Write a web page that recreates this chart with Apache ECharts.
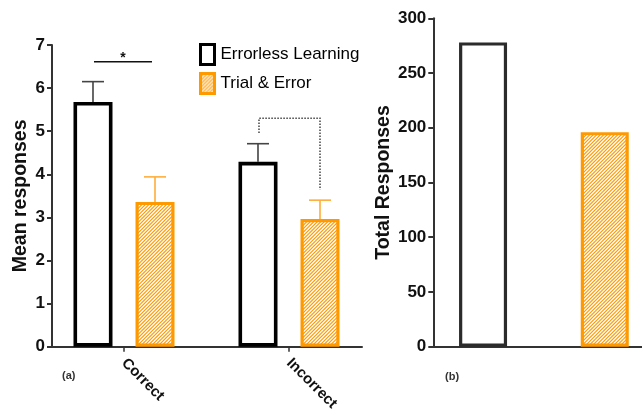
<!DOCTYPE html>
<html>
<head>
<meta charset="utf-8">
<script src="https://cdn.jsdelivr.net/npm/echarts@6/dist/echarts.min.js"></script>
<style>
html,body{margin:0;padding:0;background:#fff;}
#chart{width:642px;height:409px;}
</style>
</head>
<body>
<div id="chart"></div>
<script>
// ---- data ----
var categories = ['Correct', 'Incorrect'];
var errorlessMean = [5.68, 4.29];
var errorlessSem = [0.47, 0.42];
var trialMean = [3.36, 2.96];
var trialSem = [0.58, 0.44];
var meanTicks = [0, 1, 2, 3, 4, 5, 6, 7];

var totalGroups = ['Errorless Learning', 'Trial & Error'];
var totalValues = [278, 196];
var totalTicks = [0, 50, 100, 150, 200, 250, 300];

// significance annotations (in data units)
var sigSolid = [[0, 6.61]];              // category, line level
var sigDotted = [[1, 5.30, 4.96, 3.64]]; // category, top, left leg end, right leg end

// ---- styles ----
var FONT = 'Liberation Sans, Arial, Helvetica, sans-serif';
var ORANGE = '#FF9900';
var ORANGE_ERR = '#FFAD3A';

function makeHatch() {
  var c = document.createElement('canvas');
  var s = 7;
  c.width = s; c.height = s;
  var ctx = c.getContext('2d');
  ctx.fillStyle = '#fff';
  ctx.fillRect(0, 0, s, s);
  ctx.strokeStyle = ORANGE;
  ctx.lineWidth = 1.2;
  ctx.beginPath();
  var h = s / 2;
  [0, h, s, s + h, 2 * s].forEach(function (k) {
    ctx.moveTo(k + 2, -2); ctx.lineTo(-2, k + 2);
  });
  ctx.stroke();
  return c;
}
var hatch = { image: makeHatch(), repeat: 'repeat' };

var BAR_W = 39, BAR_GAP = 0.59;
var OFF = (BAR_W + BAR_W * BAR_GAP) / 2;

function errRender(offset, color) {
  return function (params, api) {
    var cx = api.coord([api.value(0), 0])[0] + offset;
    var yBase = api.coord([api.value(0), api.value(1)])[1];
    var yTop = api.coord([api.value(0), api.value(1) + api.value(2)])[1];
    return {
      type: 'group',
      children: [
        { type: 'line', shape: { x1: cx, y1: yBase, x2: cx, y2: yTop }, style: { stroke: color, lineWidth: 1.6 } },
        { type: 'line', shape: { x1: cx - 11, y1: yTop, x2: cx + 11, y2: yTop }, style: { stroke: color, lineWidth: 1.6 } }
      ]
    };
  };
}

var chart = echarts.init(document.getElementById('chart'), null, { renderer: 'canvas' });

var axisLineStyle = { color: '#333', width: 2 };
var tickLabel = { fontSize: 17, fontWeight: 'bold', color: '#111', fontFamily: FONT };
var nameStyle = { fontSize: 19.5, fontWeight: 'bold', color: '#111', fontFamily: FONT };

var option = {
  animation: false,
  backgroundColor: '#fff',
  textStyle: { fontFamily: FONT },
  grid: [
    { left: 41.5, top: 45, width: 330, height: 301.7, outerBoundsMode: 'none', containLabel: false },
    { left: 52, top: 45, width: 310, height: 301.7, outerBoundsMode: 'none', containLabel: false },
    { left: 422.2, top: 18.3, width: 243.4, height: 328.4, outerBoundsMode: 'none', containLabel: false },
    { left: 433.3, top: 18.3, width: 208.7, height: 328.4, outerBoundsMode: 'none', containLabel: false }
  ],
  legend: {
    left: 199, top: 43, padding: 0, orient: 'vertical',
    itemWidth: 14, itemHeight: 20, itemGap: 6, selectedMode: false,
    textStyle: { fontSize: 17, color: '#000', fontFamily: FONT, padding: [0, 0, 0, 1] },
    data: [
      { name: 'Errorless Learning', icon: 'rect', itemStyle: { color: '#fff', borderColor: '#000', borderWidth: 3 } },
      { name: 'Trial & Error', icon: 'rect', itemStyle: { color: hatch, borderColor: ORANGE, borderWidth: 3 } }
    ]
  },
  xAxis: [
    {
      type: 'category', gridIndex: 0, data: categories,
      axisLine: { show: false },
      axisTick: { show: true, alignWithLabel: true, length: 5, lineStyle: { color: '#333', width: 1.5 } },
      axisLabel: { rotate: -45, margin: 14, fontSize: 15, fontWeight: 'bold', color: '#111', fontFamily: FONT }
    },
    {
      type: 'category', gridIndex: 1, data: categories,
      axisLine: { show: true, lineStyle: axisLineStyle },
      axisTick: { show: false }, axisLabel: { show: false }
    },
    { type: 'category', gridIndex: 2, data: totalGroups, show: false },
    {
      type: 'category', gridIndex: 3, data: totalGroups,
      axisLine: { show: true, lineStyle: axisLineStyle },
      axisTick: { show: false }, axisLabel: { show: false }
    }
  ],
  yAxis: [
    { type: 'value', gridIndex: 0, min: 0, max: 7, show: false },
    {
      type: 'value', gridIndex: 1, min: meanTicks[0], max: meanTicks[meanTicks.length - 1], interval: 1,
      splitLine: { show: false },
      axisLine: { show: true, lineStyle: axisLineStyle },
      axisTick: { show: true, length: 5, lineStyle: axisLineStyle },
      axisLabel: Object.assign({ margin: 7 }, tickLabel),
      name: 'Mean responses', nameLocation: 'middle', nameGap: 21, nameTextStyle: nameStyle
    },
    { type: 'value', gridIndex: 2, min: 0, max: 300, show: false },
    {
      type: 'value', gridIndex: 3, min: totalTicks[0], max: totalTicks[totalTicks.length - 1], interval: 50,
      splitLine: { show: false },
      axisLine: { show: true, lineStyle: axisLineStyle },
      axisTick: { show: true, length: 5, lineStyle: axisLineStyle },
      axisLabel: Object.assign({ margin: 7 }, tickLabel),
      name: 'Total Responses', nameLocation: 'middle', nameGap: 38, nameTextStyle: nameStyle
    }
  ],
  series: [
    {
      name: 'Errorless Learning', type: 'bar', xAxisIndex: 0, yAxisIndex: 0,
      barWidth: BAR_W, barGap: (BAR_GAP * 100) + '%',
      data: errorlessMean,
      itemStyle: { color: '#fff', borderColor: '#000', borderWidth: 3.6 },
      z: 3
    },
    {
      name: 'Trial & Error', type: 'bar', xAxisIndex: 0, yAxisIndex: 0,
      barWidth: BAR_W, barGap: (BAR_GAP * 100) + '%',
      data: trialMean,
      itemStyle: { color: hatch, borderColor: ORANGE, borderWidth: 3.2 },
      z: 3
    },
    {
      type: 'custom', name: 'errErrorless', xAxisIndex: 0, yAxisIndex: 0, z: 2,
      data: categories.map(function (c, i) { return [i, errorlessMean[i], errorlessSem[i]]; }),
      renderItem: errRender(-OFF, '#444'), silent: true
    },
    {
      type: 'custom', name: 'errTrial', xAxisIndex: 0, yAxisIndex: 0, z: 2,
      data: categories.map(function (c, i) { return [i, trialMean[i], trialSem[i]]; }),
      renderItem: errRender(OFF, ORANGE_ERR), silent: true
    },
    {
      type: 'custom', name: 'sigSolid', xAxisIndex: 0, yAxisIndex: 0, z: 4, silent: true,
      data: sigSolid,
      renderItem: function (params, api) {
        var cx = api.coord([api.value(0), 0])[0];
        var y = api.coord([api.value(0), api.value(1)])[1];
        return {
          type: 'group', children: [
            { type: 'line', shape: { x1: cx - OFF + 1, y1: y, x2: cx + OFF - 3, y2: y }, style: { stroke: '#111', lineWidth: 1.6 } },
            { type: 'text', x: cx - 1, y: y + 3, style: { text: '*', fontSize: 14, fontWeight: 'bold', fill: '#111', align: 'center', verticalAlign: 'bottom', fontFamily: FONT } }
          ]
        };
      }
    },
    {
      type: 'custom', name: 'sigDotted', xAxisIndex: 0, yAxisIndex: 0, z: 4, silent: true,
      data: sigDotted,
      renderItem: function (params, api) {
        var c = api.value(0);
        var cx = api.coord([c, 0])[0];
        var yT = api.coord([c, api.value(1)])[1];
        var yL = api.coord([c, api.value(2)])[1];
        var yR = api.coord([c, api.value(3)])[1];
        var xl = cx - OFF + 1, xr = cx + OFF;
        return {
          type: 'polyline',
          shape: { points: [[xl, yL], [xl, yT], [xr, yT], [xr, yR]] },
          style: { stroke: '#444', lineWidth: 1.5, lineDash: [1.5, 1.5], fill: null }
        };
      }
    },
    {
      name: 'Total Responses', type: 'bar', xAxisIndex: 2, yAxisIndex: 2,
      barWidth: 48,
      data: totalValues.map(function (v, i) {
        return {
          value: v,
          itemStyle: i === 0
            ? { color: '#fff', borderColor: '#2b2b2b', borderWidth: 3.2 }
            : { color: hatch, borderColor: ORANGE, borderWidth: 3.2 }
        };
      })
    }
  ],
  graphic: [
    { type: 'text', left: 62, top: 370, style: { text: '(a)', fontSize: 11, fontWeight: 'bold', fill: '#333', fontFamily: FONT } },
    { type: 'text', left: 445, top: 371, style: { text: '(b)', fontSize: 11, fontWeight: 'bold', fill: '#333', fontFamily: FONT } }
  ]
};
chart.setOption(option);
</script>
</body>
</html>
